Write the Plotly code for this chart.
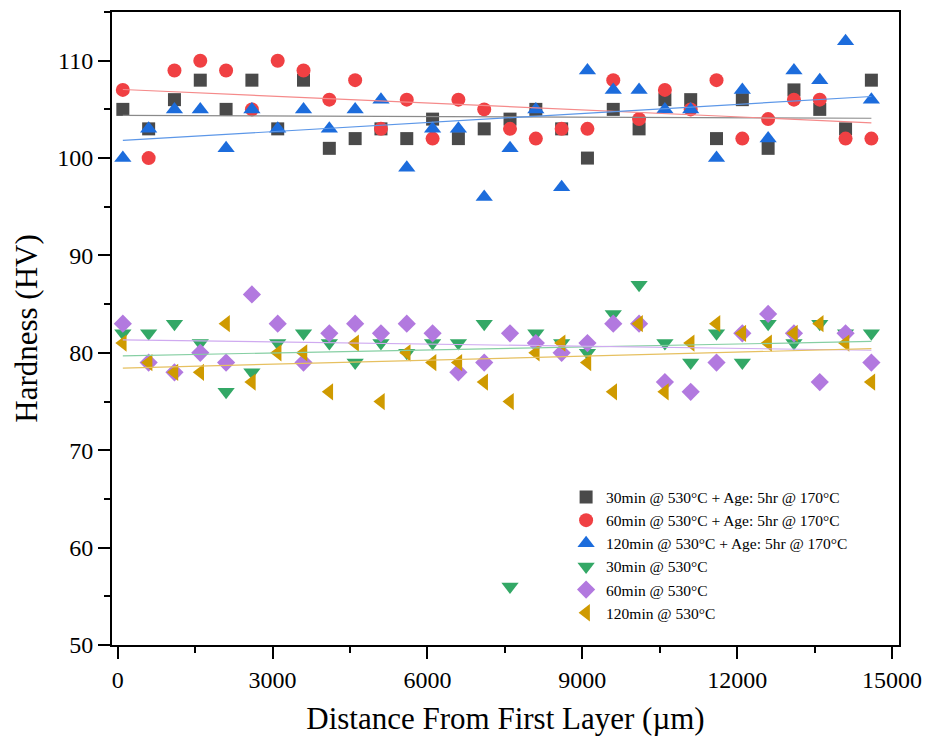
import numpy as np
import plotly.graph_objects as go

distance = [100, 600, 1100, 1600, 2100, 2600, 3100, 3600, 4100, 4600,
            5100, 5600, 6100, 6600, 7100, 7600, 8100, 8600, 9100, 9600,
            10100, 10600, 11100, 11600, 12100, 12600, 13100, 13600, 14100, 14600]

aged_30 = [105, 103, 106, 108, 105, 108, 103, 108, 101, 102, 103, 102, 104, 102, 103,
           104, 105, 103, 100, 105, 103, 106, 106, 102, 106, 101, 107, 105, 103, 108]
aged_60 = [107, 100, 109, 110, 109, 105, 110, 109, 106, 108, 103, 106, 102, 106, 105,
           103, 102, 103, 103, 108, 104, 107, 105, 108, 102, 104, 106, 106, 102, 102]
aged_120 = [100, 103, 105, 105, 101, 105, 103, 105, 103, 105, 106, 99, 103, 103, 96,
            101, 105, 97, 109, 107, 107, 105, 105, 100, 107, 102, 109, 108, 112, 106]
sol_30 = [82, 82, 83, 81, 76, 78, 81, 82, 81, 79, 81, 80, 81, 81, 83,
          56, 82, 81, 80, 84, 87, 81, 79, 82, 79, 83, 81, 83, 82, 82]
sol_60 = [83, 79, 78, 80, 79, 86, 83, 79, 82, 83, 82, 83, 82, 78, 79,
          82, 81, 80, 81, 83, 83, 77, 76, 79, 82, 84, 82, 77, 82, 79]
sol_120 = [81, 79, 78, 78, 83, 77, 80, 80, 76, 81, 75, 80, 79, 79, 77,
           75, 80, 81, 79, 76, 83, 76, 81, 83, 82, 81, 82, 83, 81, 77]

names = ["30min @ 530°C + Age: 5hr @ 170°C",
         "60min @ 530°C + Age: 5hr @ 170°C",
         "120min @ 530°C + Age: 5hr @ 170°C",
         "30min @ 530°C",
         "60min @ 530°C",
         "120min @ 530°C"]
series = [aged_30, aged_60, aged_120, sol_30, sol_60, sol_120]
colors = ["#4a4a4a", "#f04043", "#1c6cdc", "#33a866", "#b279df", "#cf9a00"]
line_colors = ["#8a8a8a", "#f58a8a", "#5c97e8", "#86cfa3", "#cfaaf0", "#e6c060"]
symbols = ["square", "circle", "triangle-up", "triangle-down", "diamond", "triangle-left"]
sizes = [13, 14, 15, 15, 14, 15]

FONT = "Liberation Serif"

fig = go.Figure()
for name, ys, c, s, sz in zip(names, series, colors, symbols, sizes):
    fig.add_trace(go.Scatter(x=distance, y=ys, mode="markers", name=name,
                             marker=dict(symbol=s, size=sz, color=c, line=dict(width=0))))

xs = np.array(distance, dtype=float)
for ys, lc in zip(series, line_colors):
    k, b = np.polyfit(xs, np.array(ys, dtype=float), 1)
    xe = [xs[0], xs[-1]]
    fig.add_trace(go.Scatter(x=xe, y=[k * v + b for v in xe], mode="lines",
                             line=dict(color=lc, width=1.2), showlegend=False,
                             hoverinfo="skip"))

axis_common = dict(showline=True, linecolor="black", linewidth=2, mirror=True,
                   ticks="outside", tickcolor="black", tickwidth=2, ticklen=12,
                   showgrid=False, zeroline=False, tickformat="d",
                   tickfont=dict(family=FONT, size=24, color="black"))

fig.update_xaxes(range=[-110, 15135], tickmode="linear", tick0=0, dtick=3000,
                 minor=dict(dtick=1500, ticks="outside", ticklen=6, tickwidth=2,
                            tickcolor="black", showgrid=False),
                 title=dict(text="Distance From First Layer (µm)", standoff=16,
                            font=dict(family=FONT, size=31, color="black")),
                 **axis_common)
fig.update_yaxes(range=[50, 115], tickmode="linear", tick0=50, dtick=10,
                 minor=dict(dtick=5, ticks="outside", ticklen=6, tickwidth=2,
                            tickcolor="black", showgrid=False),
                 title=dict(text="Hardness (HV)", standoff=10,
                            font=dict(family=FONT, size=31, color="black")),
                 **axis_common)

fig.update_layout(
    width=932, height=746,
    margin=dict(l=112, r=32, t=10, b=101),
    paper_bgcolor="white", plot_bgcolor="white",
    font=dict(family=FONT, color="black"),
    legend=dict(x=0.577, y=0.26, xanchor="left", yanchor="top",
                bgcolor="rgba(0,0,0,0)", borderwidth=0,
                font=dict(family=FONT, size=15.5, color="black"),
                tracegroupgap=0),
)

fig.write_html("out.html")
